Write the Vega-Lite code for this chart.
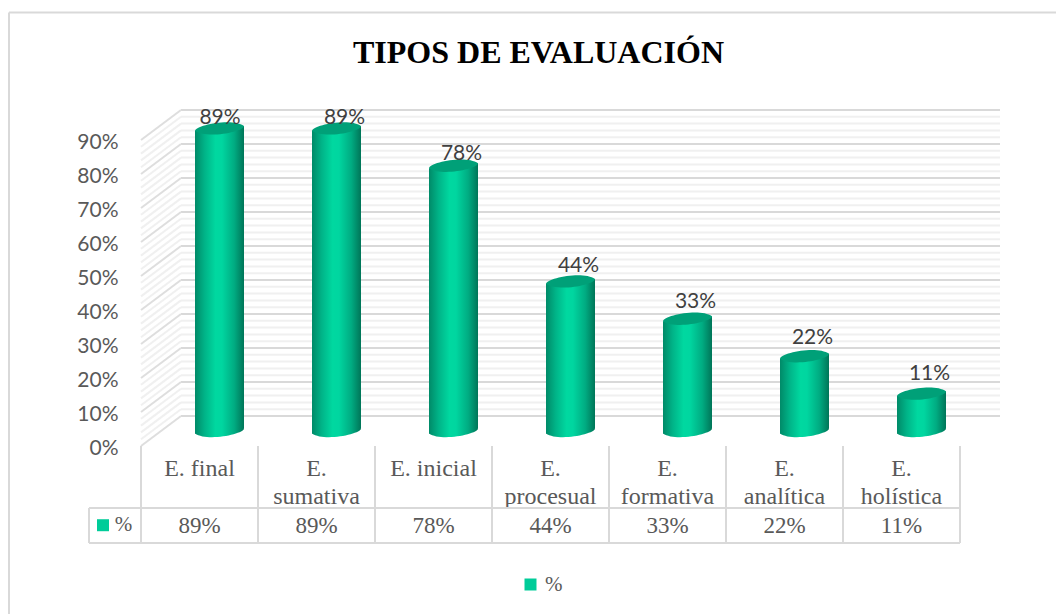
{
"$schema":"https://vega.github.io/schema/vega-lite/v6.json",
"width":819,"height":306,"autosize":"none",
"padding":{"left":141,"top":140,"right":96,"bottom":168},
"background":"white",
"title":{"text":"TIPOS DE EVALUACIÓN","font":"Liberation Serif","fontSize":32,"fontWeight":"bold","color":"#000000","anchor":"middle","frame":"group","dx":-12,"offset":-58},
"config":{"view":{"stroke":null}},
"datasets":{
"tipos":[
{"tipo":"E. final","pct":0.89},{"tipo":"E. sumativa","pct":0.89},{"tipo":"E. inicial","pct":0.78},{"tipo":"E. procesual","pct":0.44},{"tipo":"E. formativa","pct":0.33},{"tipo":"E. analítica","pct":0.22},{"tipo":"E. holística","pct":0.11}],
"major":[{"v":0},{"v":0.1},{"v":0.2},{"v":0.3},{"v":0.4},{"v":0.5},{"v":0.6},{"v":0.7},{"v":0.8},{"v":0.9}],
"minor":[{"v":0.02},{"v":0.04},{"v":0.06},{"v":0.08},{"v":0.12},{"v":0.14},{"v":0.16},{"v":0.18},{"v":0.22},{"v":0.24},{"v":0.26},{"v":0.28},{"v":0.32},{"v":0.34},{"v":0.36},{"v":0.38},{"v":0.42},{"v":0.44},{"v":0.46},{"v":0.48},{"v":0.52},{"v":0.54},{"v":0.56},{"v":0.58},{"v":0.62},{"v":0.64},{"v":0.66},{"v":0.68},{"v":0.72},{"v":0.74},{"v":0.76},{"v":0.78},{"v":0.82},{"v":0.84},{"v":0.86},{"v":0.88}]
},
"resolve":{"scale":{"x":"independent"}},
"layer":[
{"encoding":{"y":{"type":"quantitative","scale":{"domain":[0,0.9],"nice":false},"axis":{"values":[0,0.1,0.2,0.3,0.4,0.5,0.6,0.7,0.8,0.9],"format":".0%","title":null,"domain":false,"ticks":false,"grid":false,"labelFont":"Lato","labelFontSize":21,"labelColor":"#595959","labelPadding":23,"labelOverlap":false,"labelSeparation":0,"labelOffset":2.5}}},
"layer":[
{"data":{"name":"minor"},"mark":{"type":"rule","color":"#f0f0f0","strokeWidth":2,"yOffset":-30},"encoding":{"y":{"field":"v","type":"quantitative"},"x":{"datum":40,"type":"quantitative","scale":{"domain":[0,819],"range":[0,819]},"axis":null},"x2":{"datum":859}}},
{"data":{"name":"minor"},"mark":{"type":"rule","color":"#f0f0f0","strokeWidth":2,"y2Offset":-30},"encoding":{"y":{"field":"v","type":"quantitative"},"y2":{"field":"v"},"x":{"datum":0,"type":"quantitative","scale":{"domain":[0,819],"range":[0,819]},"axis":null},"x2":{"datum":40}}},
{"data":{"name":"major"},"mark":{"type":"rule","color":"#d9d9d9","strokeWidth":2,"yOffset":-30},"encoding":{"y":{"field":"v","type":"quantitative"},"x":{"datum":40,"type":"quantitative","scale":{"domain":[0,819],"range":[0,819]},"axis":null},"x2":{"datum":859}}},
{"data":{"name":"major"},"mark":{"type":"rule","color":"#dedede","strokeWidth":2,"y2Offset":-30},"encoding":{"y":{"field":"v","type":"quantitative"},"y2":{"field":"v"},"x":{"datum":0,"type":"quantitative","scale":{"domain":[0,819],"range":[0,819]},"axis":null},"x2":{"datum":40}}},
{"data":{"values":[{"v":-0.1825},{"v":-0.2855}]},"mark":{"type":"rule","color":"#d9d9d9","strokeWidth":2},"encoding":{"y":{"field":"v","type":"quantitative"},"x":{"datum":-52,"type":"quantitative","scale":{"domain":[0,819],"range":[0,819]},"axis":null},"x2":{"datum":819}}},
{"data":{"values":[{"c":-52}]},"mark":{"type":"rule","color":"#d9d9d9","strokeWidth":2},"encoding":{"x":{"field":"c","type":"quantitative","scale":{"domain":[0,819],"range":[0,819]},"axis":null},"y":{"datum":-0.1825},"y2":{"datum":-0.2855}}},
{"data":{"values":[{"c":-132}]},"mark":{"type":"rule","color":"#d9d9d9","strokeWidth":2},"encoding":{"x":{"field":"c","type":"quantitative","scale":{"domain":[0,819],"range":[0,819]},"axis":null},"y":{"datum":1.275},"y2":{"datum":-0.495}}},
{"data":{"values":[{"v":1.275}]},"mark":{"type":"rule","color":"#d9d9d9","strokeWidth":2},"encoding":{"y":{"field":"v","type":"quantitative"},"x":{"datum":-132,"type":"quantitative","scale":{"domain":[0,819],"range":[0,819]},"axis":null},"x2":{"datum":915}}},
{"data":{"values":[{"serie":"%"}]},"mark":{"type":"point","filled":true,"shape":"square","size":144,"opacity":1},"encoding":{"x":{"datum":-38,"type":"quantitative","scale":{"domain":[0,819],"range":[0,819]},"axis":null},"y":{"datum":-0.233},"color":{"field":"serie","type":"nominal","scale":{"range":["#00cc99"]},"legend":{"title":null,"orient":"none","legendX":379,"legendY":434,"symbolType":"square","symbolSize":144,"symbolOpacity":1,"labelFont":"Liberation Serif","labelFontSize":21,"labelColor":"#595959","labelOffset":4}}}},
{"data":{"values":[{"serie":"%"}]},"mark":{"type":"text","font":"Liberation Serif","fontSize":21,"color":"#595959"},"encoding":{"x":{"datum":-17.5,"type":"quantitative","scale":{"domain":[0,819],"range":[0,819]},"axis":null},"y":{"datum":-0.233},"text":{"field":"serie"}}}
]},
{"data":{"name":"tipos"},
"encoding":{"x":{"field":"tipo","type":"nominal","sort":null,"scale":{"paddingInner":0,"paddingOuter":0},"axis":{"title":null,"orient":"bottom","domain":false,"ticks":false,"grid":false,"labelAngle":0,"labelFont":"Liberation Serif","labelFontSize":24,"labelColor":"#595959","labelPadding":10,"labelLineHeight":28,"labelBaseline":"top","labelLimit":200,"labelOverlap":false,"labelExpr":"length(datum.label)>10 ? split(datum.label,' ') : datum.label"}},
"y":{"field":"pct","type":"quantitative","axis":{"values":[0,0.1,0.2,0.3,0.4,0.5,0.6,0.7,0.8,0.9],"format":".0%","title":null,"domain":false,"ticks":false,"grid":false,"labelFont":"Lato","labelFontSize":21,"labelColor":"#595959","labelPadding":23,"labelOverlap":false,"labelSeparation":0,"labelOffset":2.5}}},
"layer":[
{"mark":{"type":"rule","color":"#d9d9d9","strokeWidth":2},"encoding":{"x":{"field":"tipo","type":"nominal","sort":null,"bandPosition":0},"y":{"datum":0},"y2":{"datum":-0.2855}}},
{"transform":[{"filter":"datum.tipo=='E. holística'"}],"mark":{"type":"rule","color":"#d9d9d9","strokeWidth":2},"encoding":{"x":{"field":"tipo","type":"nominal","sort":null,"bandPosition":1},"y":{"datum":0},"y2":{"datum":-0.2855}}},
{"mark":{"type":"point","filled":true,"opacity":1,"size":2401,"xOffset":20,"yOffset":-15,"shape":"M-1,0.1C-1,-0.12,0.5,-0.45,1,-0.1C1,0.12,-0.5,0.45,-1,0.1Z","fill":{"gradient":"linear","x1":0,"x2":1,"y1":0,"y2":0,"stops":[{"offset":0,"color":"#008a68"},{"offset":0.2,"color":"#00b488"},{"offset":0.42,"color":"#00d8a0"},{"offset":0.55,"color":"#00d6a0"},{"offset":0.8,"color":"#00ac82"},{"offset":1,"color":"#007558"}]}},"encoding":{"y":{"datum":0}}},
{"mark":{"type":"point","filled":true,"opacity":1,"size":2401,"xOffset":20,"yOffset":-15,"shape":"M-1,0.1L1,-0.1L1,-0.3L-1,-0.3Z","fill":{"gradient":"linear","x1":0,"x2":1,"y1":0,"y2":0,"stops":[{"offset":0,"color":"#008a68"},{"offset":0.2,"color":"#00b488"},{"offset":0.42,"color":"#00d8a0"},{"offset":0.55,"color":"#00d6a0"},{"offset":0.8,"color":"#00ac82"},{"offset":1,"color":"#007558"}]}},"encoding":{"y":{"datum":0}}},
{"mark":{"type":"bar","width":49,"xOffset":20,"yOffset":-10,"fill":{"gradient":"linear","x1":0,"x2":1,"y1":0,"y2":0,"stops":[{"offset":0,"color":"#008a68"},{"offset":0.2,"color":"#00b488"},{"offset":0.42,"color":"#00d8a0"},{"offset":0.55,"color":"#00d6a0"},{"offset":0.8,"color":"#00ac82"},{"offset":1,"color":"#007558"}]}},"encoding":{"y2":{"datum":0.053}}},
{"mark":{"type":"point","filled":true,"opacity":1,"size":2401,"xOffset":20,"yOffset":-15,"shape":"M-1,0.1L1,-0.1L1,0.3L-1,0.3Z","fill":{"gradient":"linear","x1":0,"x2":1,"y1":0,"y2":0,"stops":[{"offset":0,"color":"#008a68"},{"offset":0.2,"color":"#00b488"},{"offset":0.42,"color":"#00d8a0"},{"offset":0.55,"color":"#00d6a0"},{"offset":0.8,"color":"#00ac82"},{"offset":1,"color":"#007558"}]}}},
{"mark":{"type":"point","filled":true,"opacity":1,"size":2401,"xOffset":20,"yOffset":-15,"fill":"#00a078","shape":"M-1,0.1C-1,-0.12,0.5,-0.45,1,-0.1C1,0.12,-0.5,0.45,-1,0.1Z"}},
{"mark":{"type":"text","font":"Lato","fontSize":21,"color":"#404040","baseline":"middle","xOffset":{"expr":"datum.tipo=='E. final'?20.5:28"},"yOffset":{"expr":"-36+12*datum.pct"}},"encoding":{"text":{"field":"pct","format":".0%"}}},
{"mark":{"type":"text","font":"Liberation Serif","fontSize":23,"color":"#595959","baseline":"middle"},"encoding":{"y":{"datum":-0.2355},"text":{"field":"pct","format":".0%"}}}
]}
]
}
